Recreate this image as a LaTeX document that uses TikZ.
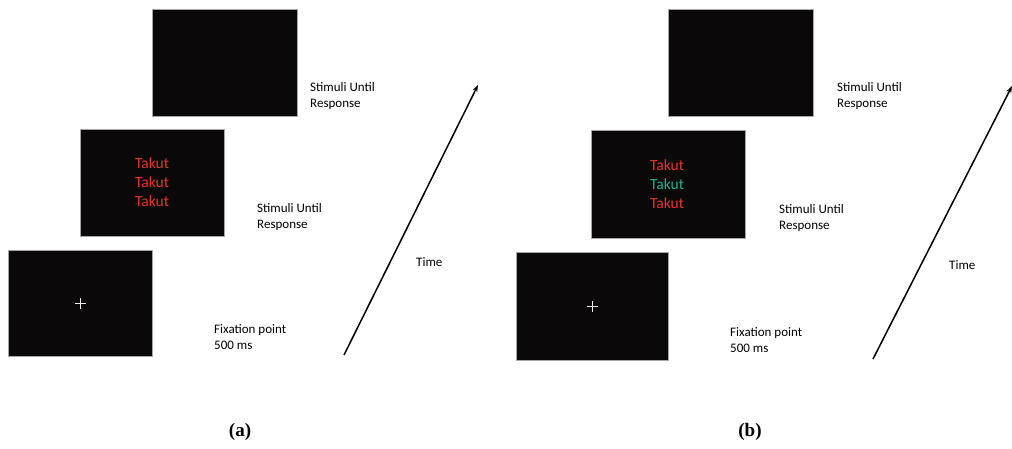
\documentclass[tikz,border=0pt]{standalone}
\usepackage{fontspec}
\setmainfont{Carlito}
\newfontfamily\capfont{Liberation Serif}
\usetikzlibrary{arrows.meta}
\definecolor{scr}{HTML}{0A0808}
\definecolor{tred}{HTML}{E8352B}
\definecolor{tgreen}{HTML}{1DB48E}
\tikzset{
  screen/.style={draw=gray!70, line width=0.6pt, fill=scr, inner sep=0pt, anchor=north west},
  lbl/.style={align=left, anchor=west, font=\fontsize{13}{16.5}\selectfont, inner sep=0pt},
  word/.style={font=\fontsize{15.5}{18.5}\selectfont, inner sep=0pt},
  fixline/.style={draw=white!85!gray, line width=0.7pt},
  timearrow/.style={line width=1.5pt, -{Stealth[length=7pt,width=5pt]}},
  panelcap/.style={font=\capfont\bfseries\fontsize{19}{20}\selectfont, inner sep=0pt}
}
\begin{document}
\begin{tikzpicture}[x=1pt,y=-1pt]
\useasboundingbox (0,0) rectangle (1012,448);
% ---------- panel (a) ----------
\node[screen, minimum width=145pt, minimum height=107pt] (a3) at (152,9) {};
\node[screen, minimum width=144pt, minimum height=107pt] (a2) at (80,129) {};
\node[screen, minimum width=144pt, minimum height=106pt] (a1) at (8,250) {};
\draw[fixline] ([xshift=-5.5pt]a1.center) -- ([xshift=5.5pt]a1.center)
               ([yshift=-5.5pt]a1.center) -- ([yshift=5.5pt]a1.center);
\node[word, text=tred] (a2t1) at (152,163) {Takut};
\node[word, text=tred] (a2t2) at (152,182) {Takut};
\node[word, text=tred] (a2t3) at (152,201) {Takut};
\node[lbl] (a3l) at (310,96) {Stimuli Until\\Response};
\node[lbl] (a2l) at (257,217) {Stimuli Until\\Response};
\node[lbl] (a1l) at (214,337) {Fixation point\\500 ms};
\node[lbl] (atime) at (416,262) {Time};
\coordinate (as) at (344,355);
\coordinate (ae) at (478,85);
\draw[timearrow] (as) -- (ae);
\node[panelcap] (acap) at (240,432) {(a)};
% ---------- panel (b) ----------
\node[screen, minimum width=145pt, minimum height=107pt] (b3) at (668,9) {};
\node[screen, minimum width=154pt, minimum height=108pt] (b2) at (591,130) {};
\node[screen, minimum width=152pt, minimum height=108pt] (b1) at (516,252) {};
\draw[fixline] ([xshift=-5.5pt]b1.center) -- ([xshift=5.5pt]b1.center)
               ([yshift=-5.5pt]b1.center) -- ([yshift=5.5pt]b1.center);
\node[word, text=tred] (b2t1) at (667,165) {Takut};
\node[word, text=tgreen] (b2t2) at (667,184) {Takut};
\node[word, text=tred] (b2t3) at (667,203) {Takut};
\node[lbl] (b3l) at (837,96) {Stimuli Until\\Response};
\node[lbl] (b2l) at (779,218) {Stimuli Until\\Response};
\node[lbl] (b1l) at (730,340) {Fixation point\\500 ms};
\node[lbl] (btime) at (949,265) {Time};
\coordinate (bs) at (873,359);
\coordinate (be) at (1012,86);
\draw[timearrow] (bs) -- (be);
\node[panelcap] (bcap) at (750,432) {(b)};
\end{tikzpicture}
\end{document}
